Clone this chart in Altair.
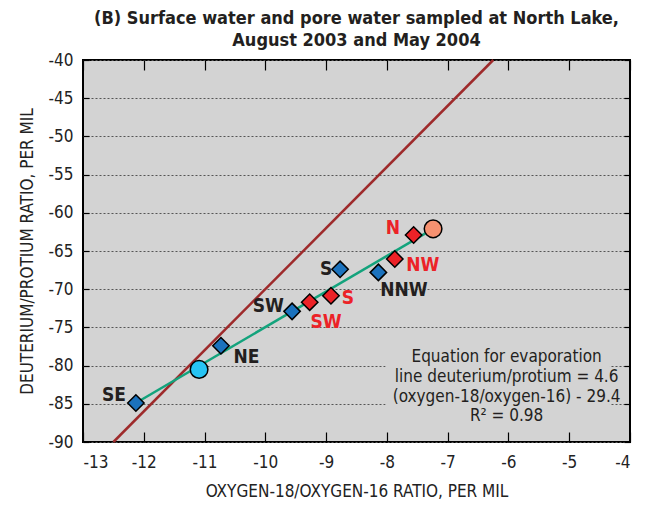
import altair as alt
import pandas as pd

# ---- data ----
pt_name = ["SE", "NE", "SW", "S", "NNW", "SW", "S", "NW", "N"]
pt_x = [-12.13, -10.73, -9.56, -8.77, -8.14, -9.27, -8.92, -7.87, -7.56]
pt_y = [-84.9, -77.4, -72.9, -67.4, -67.8, -71.7, -70.85, -66.05, -62.9]
pt_group = ["blue"] * 5 + ["red"] * 4

circ_x = [-11.09, -7.24]
circ_y = [-80.5, -62.1]
circ_group = ["light", "salmon"]

lab_text = ["SE", "NE", "SW", "S", "NNW", "SW", "S", "NW", "N"]
lab_x = [-12.49, -10.31, -9.95, -9.0, -7.72, -9.0, -8.64, -7.41, -7.9]
lab_y = [-83.85, -78.9, -72.2, -67.4, -70.1, -74.3, -71.15, -66.8, -62.0]
lab_group = ["black"] * 5 + ["red"] * 4

# global meteoric water line and evaporation line end points
gmwl_x = [-12.5, -6.25]
gmwl_y = [-90.0, -40.0]
evap_x = [-12.13, -7.24]
evap_y = [-84.9, -62.1]

eq_lines = ["Equation for evaporation",
            "line deuterium/protium = 4.6",
            "(oxygen-18/oxygen-16) - 29.4",
            "R\u00b2 = 0.98"]
eq_x = [-6.03] * 4
eq_y = [-78.9, -81.5, -84.1, -86.65]
box_x, box_x2, box_y, box_y2 = [-8.02], [-4.33], [-77.2], [-88.0]

x_ticks = list(range(-13, -3))
y_ticks = list(range(-90, -39, 5))

# ---- styling ----
FONT = "DejaVu Sans Condensed, Roboto, sans-serif"
BG = "#d3d3d3"
xs = alt.Scale(domain=[-13, -4], nice=False)
ys = alt.Scale(domain=[-90, -40], nice=False)

pts = pd.DataFrame({"name": pt_name, "x": pt_x, "y": pt_y, "g": pt_group})
circ = pd.DataFrame({"x": circ_x, "y": circ_y, "g": circ_group})
labs = pd.DataFrame({"t": lab_text, "x": lab_x, "y": lab_y, "g": lab_group})
gmwl = pd.DataFrame({"x": gmwl_x, "y": gmwl_y})
evap = pd.DataFrame({"x": evap_x, "y": evap_y})
eq = pd.DataFrame({"t": eq_lines, "x": eq_x, "y": eq_y})
box = pd.DataFrame({"x": box_x, "x2": box_x2, "y": box_y, "y2": box_y2})

box_layer = alt.Chart(box).mark_rect(color=BG).encode(
    x=alt.X("x:Q", scale=xs, axis=None), x2="x2:Q",
    y=alt.Y("y:Q", scale=ys, axis=None), y2="y2:Q")

gmwl_layer = alt.Chart(gmwl).mark_line(color="#9e2a2b", strokeWidth=2.5).encode(
    x=alt.X("x:Q", scale=xs, title="OXYGEN-18/OXYGEN-16 RATIO, PER MIL",
            axis=alt.Axis(values=x_ticks, labelExpr="toString(datum.value)",
                          grid=False, domain=False,
                          offset=-10, tickSize=10, tickColor="black", tickWidth=1.2,
                          labelPadding=12, labelFontSize=17, labelFont=FONT,
                          labelColor="#222", titleFont=FONT, titleFontSize=17,
                          titleFontWeight="normal", titleColor="#222", titlePadding=13)),
    y=alt.Y("y:Q", scale=ys, title="DEUTERIUM/PROTIUM RATIO, PER MIL",
            axis=alt.Axis(values=y_ticks, labelExpr="toString(datum.value)",
                          grid=True, gridColor="#555",
                          gridDash=[2, 2], gridWidth=1, domain=False,
                          offset=-6, tickSize=6, tickColor="black", tickWidth=1.2,
                          labelPadding=10, labelFontSize=17, labelFont=FONT,
                          labelColor="#222", titleFont=FONT, titleFontSize=17,
                          titleFontWeight="normal", titleColor="#222", titlePadding=12)))

evap_layer = alt.Chart(evap).mark_line(color="#13a37c", strokeWidth=2.5).encode(
    x=alt.X("x:Q", scale=xs, title=None,
            axis=alt.Axis(orient="top", values=x_ticks, labels=False, grid=False,
                          domain=False, offset=-10, tickSize=10, tickColor="black",
                          tickWidth=1.2)),
    y=alt.Y("y:Q", scale=ys, title=None,
            axis=alt.Axis(orient="right", values=y_ticks, labels=False, grid=False,
                          domain=False, offset=-6, tickSize=6, tickColor="black",
                          tickWidth=1.2)))

pt_layer = alt.Chart(pts).mark_point(shape="diamond", filled=True, size=270,
                                     stroke="black", strokeWidth=1.5, opacity=1).encode(
    x=alt.X("x:Q", scale=xs, axis=None),
    y=alt.Y("y:Q", scale=ys, axis=None),
    fill=alt.Fill("g:N", scale=alt.Scale(domain=["blue", "red"],
                                         range=["#1b72bd", "#ec2227"]), legend=None))

circ_layer = alt.Chart(circ).mark_point(shape="circle", filled=True, size=310,
                                        stroke="black", strokeWidth=1.5, opacity=1).encode(
    x=alt.X("x:Q", scale=xs, axis=None),
    y=alt.Y("y:Q", scale=ys, axis=None),
    fill=alt.Fill("g:N", scale=alt.Scale(domain=["light", "salmon"],
                                         range=["#27c4f4", "#f69170"]), legend=None))

lab_layer = alt.Chart(labs).mark_text(font=FONT, fontSize=19, fontWeight="bold",
                                      align="center", baseline="middle").encode(
    x=alt.X("x:Q", scale=xs, axis=None),
    y=alt.Y("y:Q", scale=ys, axis=None),
    text="t:N",
    color=alt.Color("g:N", scale=alt.Scale(domain=["black", "red"],
                                           range=["#231f20", "#ec2227"]), legend=None))

eq_layer = alt.Chart(eq).mark_text(font=FONT, fontSize=17, color="#231f20",
                                   align="center", baseline="middle").encode(
    x=alt.X("x:Q", scale=xs, axis=None),
    y=alt.Y("y:Q", scale=ys, axis=None),
    text="t:N")

chart = alt.layer(box_layer, gmwl_layer, evap_layer, pt_layer, circ_layer,
                  lab_layer, eq_layer).resolve_axis(
    x="independent", y="independent").resolve_scale(
    fill="independent", color="independent").properties(
    width=547, height=382,
    autosize=alt.AutoSizeParams(type="none"),
    padding={"left": 75, "top": 52, "right": 14, "bottom": 57},
    title=alt.Title(["(B) Surface water and pore water sampled at North Lake,",
                     "August 2003 and May 2004"],
                    font=FONT, fontSize=18, fontWeight="bold", color="#231f20",
                    lineHeight=22, offset=1, anchor="middle"),
    background="white",
).configure_view(fill=BG, stroke="black", strokeWidth=2)

chart.save("out.html", embed_options={"renderer": "svg", "actions": False})
